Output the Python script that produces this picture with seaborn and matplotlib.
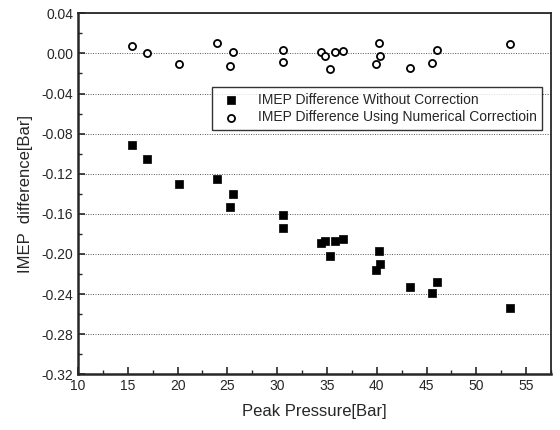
import pandas as pd
import numpy as np
import seaborn as sns
import matplotlib.pyplot as plt
from matplotlib.ticker import MultipleLocator

# peak pressure of each run [Bar]
peak_pressure = [15.4, 16.9, 20.1, 23.95, 25.3, 25.55, 30.55, 30.55, 34.4, 34.8,
                 35.3, 35.85, 36.65, 39.9, 40.2, 40.35, 43.3, 45.5, 46.1, 53.35]

# IMEP difference without correction [Bar]
diff_without = [-0.091, -0.105, -0.130, -0.125, -0.153, -0.1405, -0.161, -0.174, -0.189, -0.187,
                -0.202, -0.187, -0.185, -0.216, -0.197, -0.210, -0.233, -0.239, -0.228, -0.2535]

# IMEP difference using numerical correction [Bar]
diff_corrected = [0.0074, 0.000, -0.011, 0.010, -0.0125, 0.0017, 0.0034, -0.009, 0.0017, -0.0023,
                  -0.016, 0.0017, 0.0024, -0.011, 0.010, -0.0027, -0.0143, -0.010, 0.003, 0.009]

series_labels = ["IMEP Difference Without Correction",
                 "IMEP Difference Using Numerical Correctioin"]

df = pd.DataFrame({
    "pressure": peak_pressure * 2,
    "diff": diff_without + diff_corrected,
    "series": [series_labels[0]] * len(peak_pressure) + [series_labels[1]] * len(peak_pressure),
})

sns.set_style("ticks")
plt.rcParams['font.family'] = ['Liberation Sans', 'DejaVu Sans']

fig, ax = plt.subplots(figsize=(5.6, 4.3), dpi=100)
fig.subplots_adjust(left=78 / 560, right=551 / 560, top=1 - 13.3 / 430, bottom=1 - 374.3 / 430)

# squares first, then open circles
sns.scatterplot(data=df[df["series"] == series_labels[0]], x="pressure", y="diff",
                marker="s", color="black", edgecolor="black", s=40, linewidth=0.5,
                label=series_labels[0], ax=ax, zorder=3)
sns.scatterplot(data=df[df["series"] == series_labels[1]], x="pressure", y="diff",
                marker="o", facecolor="white", edgecolor="black", s=26, linewidth=1.3,
                label=series_labels[1], ax=ax, zorder=3)

ax.set_xlim(10, 57.5)
ax.set_ylim(-0.32, 0.04)
ax.xaxis.set_major_locator(MultipleLocator(5))
ax.xaxis.set_minor_locator(MultipleLocator(2.5))
ax.yaxis.set_major_locator(MultipleLocator(0.04))
ax.yaxis.set_minor_locator(MultipleLocator(0.02))
ax.yaxis.set_major_formatter(plt.FuncFormatter(lambda v, p: f"{v:.2f}"))

ax.tick_params(which="both", direction="in", top=False, right=False, labelsize=10)
ax.tick_params(which="major", length=5, width=1.2)
ax.tick_params(which="minor", length=3, width=1.0)

ax.yaxis.grid(True, which="major", linestyle=(0, (1, 1.5)), color="#555555", linewidth=0.7)
ax.set_axisbelow(True)

for side in ["left", "bottom"]:
    ax.spines[side].set_linewidth(1.8)
for side in ["top", "right"]:
    ax.spines[side].set_linewidth(1.3)
    ax.spines[side].set_visible(True)

ax.set_xlabel("Peak Pressure[Bar]", fontsize=12, labelpad=8)
ax.set_ylabel("IMEP  difference[Bar]", fontsize=12, labelpad=6)

handles, labels = ax.get_legend_handles_labels()
leg = ax.legend(handles, labels, loc="upper left", bbox_to_anchor=(0.283, 0.795),
                fontsize=10, frameon=True, fancybox=False, edgecolor="black",
                borderpad=0.4, labelspacing=0.25, handletextpad=0.9, borderaxespad=0)
leg.get_frame().set_linewidth(1.0)

plt.savefig("out.png", dpi=100)
